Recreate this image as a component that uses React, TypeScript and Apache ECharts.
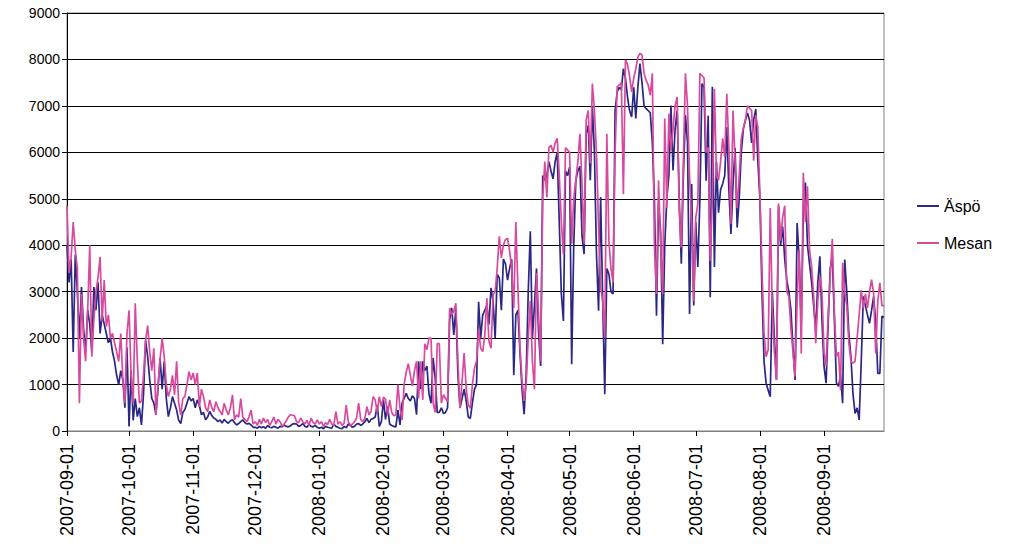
import React, { useEffect, useRef } from "react";
import * as echarts from "echarts";

const startDate = "2007-09-01";
const dayCount = 396;

// Äspö daily values by month
const aspoSep07 = [4000, 3200, 3700, 1700, 3800, 3000, 2000, 3100, 2200, 1700, 2600, 2300, 1700, 3100, 2600, 3200, 2100, 2500, 2300, 2100, 1900, 2000, 1700, 1500, 1200, 1000, 1300, 1100, 500, 1800];
const aspoOct07 = [100, 1300, 230, 700, 310, 500, 130, 800, 1950, 1600, 1100, 700, 600, 350, 900, 1570, 900, 1500, 700, 310, 500, 740, 600, 450, 230, 160, 400, 465, 600, 740, 650];
const aspoNov07 = [700, 500, 670, 550, 350, 400, 240, 300, 420, 330, 280, 250, 200, 240, 170, 250, 200, 165, 220, 240, 180, 130, 160, 200, 240, 180, 150, 165, 130, 80];
const aspoDec07 = [80, 60, 100, 70, 90, 60, 120, 80, 70, 100, 80, 60, 100, 90, 130, 100, 90, 110, 150, 160, 150, 100, 120, 160, 100, 80, 140, 100, 90, 120, 80];
const aspoJan08 = [60, 80, 50, 100, 80, 70, 60, 150, 100, 80, 60, 50, 100, 70, 150, 120, 80, 100, 150, 160, 120, 150, 200, 270, 180, 250, 270, 300, 560, 100, 200];
const aspoFeb08 = [670, 250, 530, 150, 120, 100, 90, 450, 130, 600, 700, 810, 700, 650, 760, 700, 350, 1500, 900, 1500, 1300, 1400, 800, 600, 1570, 1150, 400, 400, 500];
const aspoMar08 = [380, 400, 500, 2400, 2650, 2070, 2650, 1200, 500, 700, 900, 650, 300, 270, 600, 900, 1000, 2780, 2000, 2500, 2600, 2700, 2290, 3080, 2800, 2000, 3370, 3300, 2600, 3700, 3600];
const aspoApr08 = [3250, 3500, 3700, 1200, 2500, 2600, 1700, 900, 360, 1200, 3000, 4300, 2000, 2700, 3500, 2100, 1400, 5500, 5400, 5500, 5800, 5600, 5430, 5800, 6000, 4500, 2950, 2370, 5600, 5500];
const aspoMay08 = [5680, 1440, 4000, 5400, 5600, 5700, 4200, 3810, 6400, 6580, 5400, 6980, 6000, 3800, 2590, 5040, 2800, 790, 3500, 3380, 3000, 2950, 6900, 7300, 7400, 7350, 7800, 7600, 7190, 6900, 6760];
const aspoJun08 = [7400, 6730, 7400, 7910, 7500, 7000, 6940, 6900, 6850, 6200, 4960, 2480, 4900, 4300, 1870, 4000, 5000, 5500, 7010, 5610, 6500, 6900, 5000, 3600, 5500, 6800, 6200, 2520, 5320, 2700];
const aspoJul08 = [4500, 3530, 5000, 7480, 7400, 5390, 6790, 2880, 7410, 3530, 5800, 4700, 5200, 5320, 5500, 6540, 5200, 4240, 5300, 6100, 4380, 5000, 6000, 6500, 6690, 6850, 6690, 6200, 6700, 6930, 5820];
const aspoAug08 = [5000, 3000, 1500, 1030, 880, 740, 3000, 2000, 1100, 4840, 4000, 4400, 3700, 3250, 3000, 2610, 1800, 1100, 4480, 3690, 2300, 4700, 5350, 4000, 3600, 3200, 2700, 2180, 3200, 3760, 2400];
const aspoSep08 = [1390, 1030, 2300, 3500, 3760, 2400, 1030, 960, 1200, 600, 3690, 3000, 2100, 1600, 800, 380, 500, 240, 1500, 2900, 2700, 2500, 2320, 2600, 2900, 2320, 1240, 1240, 2470, 2450];

// Mesan daily values by month
const mesanSep07 = [4850, 3400, 3750, 4500, 3900, 3500, 600, 2950, 2000, 1500, 2600, 4000, 1600, 2400, 3000, 3300, 3750, 2350, 3250, 2250, 2500, 2000, 2100, 1900, 1700, 1500, 2100, 1100, 600, 2100];
const mesanOct07 = [2600, 1200, 600, 2750, 1500, 600, 650, 1200, 1950, 2270, 1700, 1300, 1780, 350, 1000, 1540, 2000, 1600, 1000, 740, 900, 1200, 780, 1500, 600, 350, 700, 740, 1000, 1280, 1100];
const mesanNov07 = [1250, 1000, 1250, 520, 900, 740, 500, 420, 670, 500, 420, 630, 500, 420, 350, 600, 450, 350, 500, 780, 240, 350, 300, 700, 300, 250, 200, 300, 450, 150];
const mesanDec07 = [200, 120, 250, 150, 280, 180, 250, 120, 200, 300, 150, 250, 200, 100, 150, 220, 300, 350, 340, 330, 200, 180, 280, 200, 150, 230, 120, 280, 180, 150, 240];
const mesanJan08 = [150, 200, 100, 180, 140, 250, 150, 120, 415, 150, 200, 120, 170, 560, 200, 120, 150, 200, 280, 600, 250, 200, 270, 525, 350, 420, 740, 670, 400, 740, 525];
const mesanFeb08 = [730, 680, 340, 670, 400, 330, 350, 1000, 500, 240, 1000, 1270, 1450, 1200, 970, 1300, 1500, 700, 1500, 670, 1880, 1750, 2000, 2000, 600, 400, 1880, 1880, 600];
const mesanMar08 = [780, 700, 630, 2650, 2500, 2580, 2750, 1500, 490, 1060, 1680, 920, 560, 490, 1000, 1350, 1500, 2200, 1780, 1710, 2070, 2860, 1930, 1780, 2930, 3000, 3510, 4190, 3730, 4010, 4120];
const mesanApr08 = [4150, 3880, 3500, 2650, 4500, 3100, 1800, 1100, 650, 1000, 2000, 2800, 1500, 900, 3400, 2500, 1500, 5000, 5800, 5030, 6100, 6150, 6000, 6200, 6300, 5500, 4500, 3800, 6100, 6050];
const mesanMay08 = [6000, 4030, 5000, 5400, 5800, 6400, 5300, 4030, 6700, 6900, 5760, 7480, 6900, 5970, 4400, 3100, 2800, 2000, 6400, 4100, 3500, 3200, 6000, 7410, 7450, 7500, 5100, 7990, 7900, 7630, 7300];
const mesanJun08 = [7600, 7800, 8050, 8130, 8100, 7700, 7550, 7450, 7230, 7700, 4000, 2950, 5400, 4000, 2950, 6730, 4800, 6830, 6040, 6500, 7000, 7190, 4750, 3950, 5800, 7700, 7000, 5470, 4460, 2800];
const mesanJul08 = [4600, 4900, 7700, 7650, 7600, 6000, 6100, 3660, 5000, 7370, 5500, 5400, 5800, 6300, 5900, 7260, 6100, 4460, 6900, 5820, 4800, 5500, 6300, 6530, 6700, 7000, 6950, 6900, 5820, 6800, 6530];
const mesanAug08 = [5100, 3500, 2100, 1600, 1750, 4800, 2600, 1700, 1100, 4900, 4100, 4600, 4850, 3000, 2900, 2200, 1700, 1170, 2800, 3900, 1670, 5560, 4500, 5270, 3900, 3550, 2900, 1890, 2800, 3330, 3000];
const mesanSep08 = [1700, 1400, 2500, 3330, 4140, 2600, 1600, 1700, 880, 3620, 3000, 2700, 1900, 1500, 1460, 1500, 2000, 2500, 3030, 2650, 2950, 2650, 3000, 3260, 2950, 1670, 2800, 3190, 2700, 2700];

const aspo = [
  ...aspoSep07, ...aspoOct07, ...aspoNov07, ...aspoDec07, ...aspoJan08, ...aspoFeb08,
  ...aspoMar08, ...aspoApr08, ...aspoMay08, ...aspoJun08, ...aspoJul08, ...aspoAug08, ...aspoSep08,
];
const mesan = [
  ...mesanSep07, ...mesanOct07, ...mesanNov07, ...mesanDec07, ...mesanJan08, ...mesanFeb08,
  ...mesanMar08, ...mesanApr08, ...mesanMay08, ...mesanJun08, ...mesanJul08, ...mesanAug08, ...mesanSep08,
];

function buildDates(start: string, n: number): string[] {
  const out: string[] = [];
  const t0 = Date.parse(start + "T00:00:00Z");
  for (let i = 0; i < n; i++) {
    const d = new Date(t0 + i * 86400000);
    out.push(d.toISOString().slice(0, 10));
  }
  return out;
}
const dates = buildDates(startDate, dayCount);

const isMonthStart = (_i: number, v: string) => v.endsWith("-01");

export default function App() {
  const ref = useRef<HTMLDivElement>(null);
  useEffect(() => {
    if (!ref.current) return;
    const chart = echarts.init(ref.current, null, { renderer: "svg" });
    const font = "Liberation Sans, Arial, sans-serif";
    chart.setOption({
      animation: false,
      backgroundColor: "#ffffff",
      textStyle: { fontFamily: font },
      grid: { left: 67, right: 139, top: 13, bottom: 113, containLabel: false },
      legend: {
        orient: "vertical",
        left: 912,
        top: 193,
        itemGap: 21,
        itemWidth: 22,
        itemHeight: 2,
        icon: "rect",
        textStyle: { fontSize: 16, color: "#000", fontFamily: font },
        data: ["Äspö", "Mesan"],
      },
      xAxis: {
        type: "category",
        data: dates,
        boundaryGap: false,
        axisLine: { lineStyle: { color: "#808080", width: 1 } },
        axisTick: { interval: isMonthStart, length: 5, lineStyle: { color: "#000" } },
        axisLabel: {
          interval: isMonthStart,
          rotate: 90,
          fontSize: 18,
          color: "#000",
          fontFamily: font,
          margin: 13,
        },
        splitLine: { show: false },
      },
      yAxis: {
        type: "value",
        min: 0,
        max: 9000,
        interval: 1000,
        axisLine: { show: true, lineStyle: { color: "#000" } },
        axisTick: { show: true, length: 5, lineStyle: { color: "#000" } },
        axisLabel: {
          fontSize: 14,
          color: "#000",
          fontFamily: font,
          margin: 7,
          formatter: (v: number) => String(v),
        },
        splitLine: { lineStyle: { color: "#000", width: 1 } },
      },
      graphic: [
        {
          type: "rect",
          shape: { x: 67, y: 13, width: 817, height: 418 },
          style: { fill: "none", stroke: "#808080", lineWidth: 1 },
          silent: true,
          z: -1,
        },
      ],
      series: [
        {
          name: "Äspö",
          type: "line",
          data: aspo,
          symbol: "none",
          color: "#2a2785",
          lineStyle: { width: 1.7, color: "#2a2785" },
        },
        {
          name: "Mesan",
          type: "line",
          data: mesan,
          symbol: "none",
          color: "#d94a9e",
          lineStyle: { width: 1.7, color: "#d94a9e" },
        },
      ],
    });
    return () => chart.dispose();
  }, []);
  return (
    <div
      ref={ref}
      style={{ position: "fixed", left: 0, top: 0, width: 1023, height: 544 }}
    />
  );
}
